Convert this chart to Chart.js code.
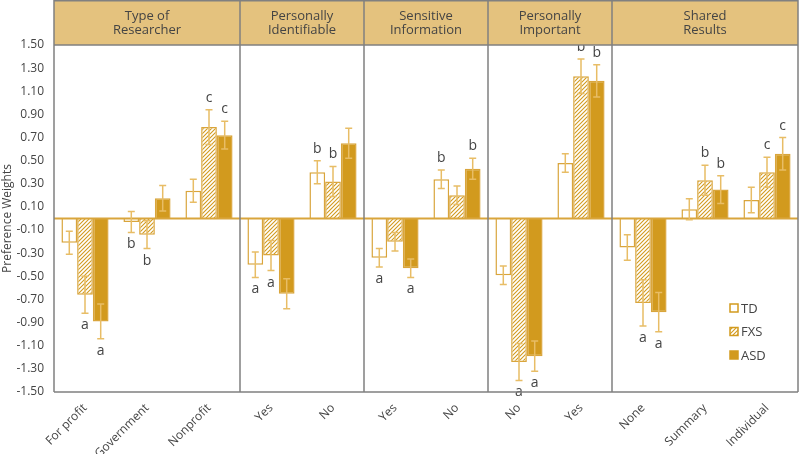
<!DOCTYPE html>
<html>
<head>
<meta charset="utf-8">
<script src="https://cdn.jsdelivr.net/npm/chart.js@4.4.1/dist/chart.umd.min.js"></script>
<style>
  html, body { margin: 0; padding: 0; background: #fff; }
  #wrap { position: relative; width: 800px; height: 454px; }
</style>
</head>
<body>
<div id="wrap"><canvas id="prefChart"></canvas></div>
<script>
// --- data ---
const categories = ['For profit', 'Government', 'Nonprofit', 'Yes', 'No', 'Yes', 'No', 'No', 'Yes', 'None', 'Summary', 'Individual'];
const panelTitles = [['Type of', 'Researcher'], ['Personally', 'Identifiable'], ['Sensitive', 'Information'], ['Personally', 'Important'], ['Shared', 'Results']];
const panelSizes = [3, 2, 2, 2, 3];

const tdValues  = [-0.21, -0.03, 0.24, -0.40, 0.40, -0.34, 0.34, -0.49, 0.48, -0.25, 0.08, 0.16];
const tdErrors  = [0.10, 0.09, 0.10, 0.11, 0.10, 0.08, 0.08, 0.08, 0.08, 0.11, 0.09, 0.11];
const fxsValues = [-0.66, -0.14, 0.79, -0.32, 0.32, -0.20, 0.20, -1.24, 1.23, -0.73, 0.33, 0.40];
const fxsErrors = [0.16, 0.12, 0.15, 0.13, 0.13, 0.08, 0.08, 0.16, 0.15, 0.20, 0.13, 0.13];
const asdValues = [-0.89, 0.175, 0.72, -0.65, 0.65, -0.43, 0.43, -1.19, 1.19, -0.81, 0.25, 0.56];
const asdErrors = [0.15, 0.11, 0.12, 0.13, 0.13, 0.08, 0.09, 0.13, 0.14, 0.17, 0.12, 0.14];

const tdLetters  = ['', 'b', '', 'a', 'b', 'a', 'b', '', '', '', '', ''];
const fxsLetters = ['a', 'b', 'c', 'a', 'b', '', '', 'a', 'b', 'a', 'b', 'c'];
const asdLetters = ['a', '', 'c', '', '', 'a', 'b', 'a', 'b', 'a', 'b', 'c'];

const yTicks = [1.5, 1.3, 1.1, 0.9, 0.7, 0.5, 0.3, 0.1, -0.1, -0.3, -0.5, -0.7, -0.9, -1.1, -1.3, -1.5];

// --- styling ---
const GOLD = '#D29A1E';
const GOLD_EDGE = '#D9A53C';
const ERR = '#E8BD66';
const HEADER = '#E4C27E';
const FRAME = '#808080';
const TEXT = '#444';
const FONT = '"Open Sans", "DejaVu Sans", sans-serif';

function makeHatch() {
    const c = document.createElement('canvas');
    c.width = 4; c.height = 4;
    const g = c.getContext('2d');
    g.fillStyle = '#fff';
    g.fillRect(0, 0, 4, 4);
    g.strokeStyle = GOLD;
    g.lineWidth = 1.1;
    g.beginPath();
    g.moveTo(0, 4); g.lineTo(4, 0);
    g.moveTo(-1, 1); g.lineTo(1, -1);
    g.moveTo(3, 5); g.lineTo(5, 3);
    g.stroke();
    return g.createPattern(c, 'repeat');
}
const hatch = makeHatch();

const errorSets = [tdErrors, fxsErrors, asdErrors];
const letterSets = [tdLetters, fxsLetters, asdLetters];

// error bars, significance letters, zero line, panel frame, header strip and legend
const decorPlugin = {
    id: 'decor',
    afterDatasetsDraw(chart) {
        const ctx = chart.ctx;
        const area = chart.chartArea;
        const x = chart.scales.x;
        const y = chart.scales.y;
        const zeroY = y.getPixelForValue(0);

        ctx.save();
        // zero line
        ctx.strokeStyle = GOLD_EDGE;
        ctx.lineWidth = 2;
        ctx.beginPath();
        ctx.moveTo(area.left, zeroY);
        ctx.lineTo(area.right, zeroY);
        ctx.stroke();

        // error bars + letters
        chart.data.datasets.forEach((ds, di) => {
            const meta = chart.getDatasetMeta(di);
            meta.data.forEach((bar, i) => {
                const v = ds.data[i];
                const e = errorSets[di][i];
                const yHi = y.getPixelForValue(v + e);
                const yLo = y.getPixelForValue(v - e);
                ctx.strokeStyle = ERR;
                ctx.lineWidth = 1.5;
                ctx.beginPath();
                ctx.moveTo(bar.x, yHi); ctx.lineTo(bar.x, yLo);
                ctx.moveTo(bar.x - 3.5, yHi); ctx.lineTo(bar.x + 3.5, yHi);
                ctx.moveTo(bar.x - 3.5, yLo); ctx.lineTo(bar.x + 3.5, yLo);
                ctx.stroke();

                const letter = letterSets[di][i];
                if (letter) {
                    ctx.fillStyle = TEXT;
                    ctx.font = '14px ' + FONT;
                    ctx.textAlign = 'center';
                    ctx.textBaseline = 'middle';
                    const ly = v >= 0 ? yHi - 12 : yLo + 12;
                    ctx.fillText(letter, bar.x, ly);
                }
            });
        });

        // panel dividers
        ctx.strokeStyle = FRAME;
        ctx.lineWidth = 1.5;
        let idx = 0;
        const edges = [area.left];
        panelSizes.forEach((n, p) => {
            idx += n;
            if (p < panelSizes.length - 1) {
                const px = (x.getPixelForValue(idx - 1) + x.getPixelForValue(idx)) / 2;
                edges.push(px);
            }
        });
        edges.push(area.right);

        // header strip
        ctx.fillStyle = HEADER;
        ctx.fillRect(area.left, 0, area.right - area.left, area.top);
        ctx.beginPath();
        edges.forEach(px => { ctx.moveTo(px, 0); ctx.lineTo(px, area.bottom); });
        ctx.moveTo(area.left, 0.75); ctx.lineTo(area.right, 0.75);
        ctx.moveTo(area.left, area.top); ctx.lineTo(area.right, area.top);
        ctx.moveTo(area.left, area.bottom); ctx.lineTo(area.right, area.bottom);
        ctx.stroke();

        ctx.fillStyle = TEXT;
        ctx.font = '13px ' + FONT;
        ctx.textAlign = 'center';
        ctx.textBaseline = 'middle';
        panelTitles.forEach((lines, p) => {
            const cx = (edges[p] + edges[p + 1]) / 2;
            ctx.fillText(lines[0], cx, area.top / 2 - 6);
            ctx.fillText(lines[1], cx, area.top / 2 + 8);
        });

        // legend (bottom right, inside the last panel)
        const lx = area.right - 68;
        const ly0 = area.bottom - 84;
        chart.data.datasets.forEach((ds, di) => {
            const cy = ly0 + di * 23.5;
            ctx.fillStyle = ds.backgroundColor;
            ctx.fillRect(lx, cy - 4, 8, 8);
            ctx.strokeStyle = GOLD;
            ctx.lineWidth = 1.5;
            ctx.strokeRect(lx, cy - 4, 8, 8);
            ctx.fillStyle = TEXT;
            ctx.font = '13px ' + FONT;
            ctx.textAlign = 'left';
            ctx.fillText(ds.label, lx + 11, cy + 1);
        });
        ctx.restore();
    }
};

new Chart(document.getElementById('prefChart'), {
    type: 'bar',
    data: {
        labels: categories,
        datasets: [
            { label: 'TD', data: tdValues, backgroundColor: '#ffffff', borderColor: GOLD_EDGE, borderWidth: 1.5 },
            { label: 'FXS', data: fxsValues, backgroundColor: hatch, borderColor: GOLD_EDGE, borderWidth: 1.5 },
            { label: 'ASD', data: asdValues, backgroundColor: GOLD, borderColor: GOLD_EDGE, borderWidth: 1.5 }
        ]
    },
    options: {
        responsive: true,
        maintainAspectRatio: false,
        animation: false,
        categoryPercentage: 0.76,
        barPercentage: 1.0,
        layout: { padding: { top: 45, right: 2, left: 0, bottom: 0 } },
        plugins: {
            legend: { display: false },
            tooltip: { enabled: false }
        },
        scales: {
            x: {
                grid: { display: false },
                border: { display: false },
                ticks: {
                    color: TEXT,
                    font: { family: FONT, size: 12 },
                    maxRotation: 45,
                    minRotation: 45,
                    padding: 1
                },
                afterFit(scale) { scale.height = 62; }
            },
            y: {
                min: -1.5,
                max: 1.5,
                grid: { display: false, drawTicks: false },
                border: { display: false },
                ticks: {
                    color: TEXT,
                    font: { family: FONT, size: 12 },
                    padding: 10,
                    callback: v => Number(v).toFixed(2)
                },
                afterBuildTicks(scale) {
                    scale.ticks = yTicks.map(v => ({ value: v }));
                },
                title: {
                    display: true,
                    text: 'Preference Weights',
                    color: TEXT,
                    font: { family: FONT, size: 12 },
                    padding: 0
                },
                afterFit(scale) { scale.width = 54; }
            }
        }
    },
    plugins: [decorPlugin]
});
</script>
</body>
</html>
